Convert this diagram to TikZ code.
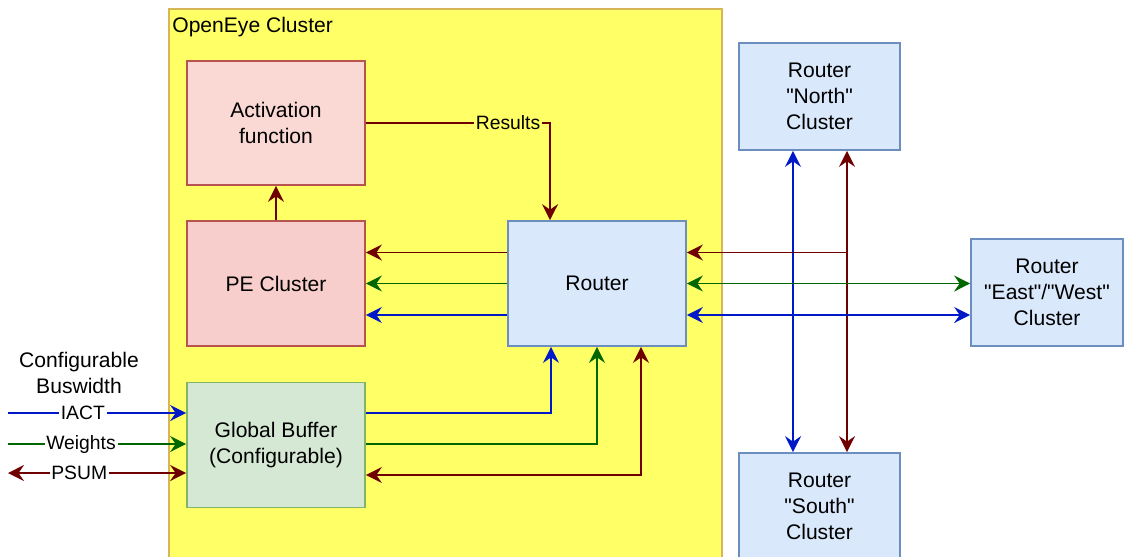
\documentclass[tikz,border=0pt]{standalone}
\usepackage{fontspec}
\setmainfont{Liberation Sans}[Ligatures=TeXOff]
\usetikzlibrary{arrows.meta,positioning,calc}
\definecolor{oefill}{HTML}{FFFF66}
\definecolor{oeline}{HTML}{D6B656}
\definecolor{redline}{HTML}{B85450}
\definecolor{actfill}{HTML}{FAD9D5}
\definecolor{pefill}{HTML}{F8CECC}
\definecolor{gbline}{HTML}{82B366}
\definecolor{gbfill}{HTML}{D5E8D4}
\definecolor{rtline}{HTML}{6C8EBF}
\definecolor{rtfill}{HTML}{DAE8FC}
\definecolor{dred}{HTML}{6F0000}
\definecolor{dgreen}{HTML}{006600}
\definecolor{dblue}{HTML}{0019C8}
\newcommand{\mainsz}{\fontsize{12pt}{14.8pt}\selectfont}
\newcommand{\lblsz}{\fontsize{11pt}{13pt}\selectfont}
\tikzset{
  blk/.style n args={2}{draw=#1,fill=#2,line width=1pt,minimum width=3.56cm,minimum height=2.5cm,
              align=center,font=\mainsz,inner sep=2pt},
  rtr/.style={blk={rtline}{rtfill},minimum width=3.22cm,minimum height=2.14cm},
  msg/.style={-{Stealth[length=3.2mm,width=3.2mm,inset=1.1mm]},line width=1.1pt,draw=#1},
  msg/.default=dred,
  duo/.style={{Stealth[length=3.2mm,width=3.2mm,inset=1.1mm]}-{Stealth[length=3.2mm,width=3.2mm,inset=1.1mm]},line width=1.1pt,draw=#1},
  duo/.default=dred,
  lbl/.style={font=\lblsz,fill=#1,inner sep=1pt,text=black},
  lbl/.default=white,
}

\begin{document}
\begin{tikzpicture}[x=0.02cm,y=-0.02cm,font=\mainsz]
  \useasboundingbox (0,0) rectangle (1124,556);
  \clip (0,0) rectangle (1124,556);
  % cluster frame
  \node[draw=oeline,fill=oefill,line width=1pt,anchor=north west,inner sep=0,
        minimum width=11.06cm,minimum height=12cm] (oe) at (168,8) {};
  \node[anchor=west,inner sep=0] (oetitle) at (172,27) {OpenEye Cluster};

  % blocks inside the cluster
  \node[blk={redline}{actfill},minimum height=2.48cm] (act) at (276,123) {Activation\\function};
  \node[blk={redline}{pefill}] (pe) at (276,283.5) {PE Cluster};
  \node[blk={gbline}{gbfill}] (gb) at (276,445) {Global Buffer\\(Configurable)};
  \node[blk={rtline}{rtfill}] (router) at (597,283.5) {Router};

  % neighbour routers
  \node[rtr] (north) at (819.5,96.5) {Router\\"North"\\Cluster};
  \node[rtr] (south) at (819.5,506.5) {Router\\"South"\\Cluster};
  \node[rtr,minimum width=3.04cm] (ew) at (1047,292.5) {Router\\"East"/"West"\\Cluster};

  \node[align=center] (bus) at (79,373) {Configurable\\Buswidth};

  % activation path
  \draw[msg] (pe) -- (act);
  \draw[msg] (act.east) -| node[lbl=oefill,pos=0.386]{Results} ([xshift=-0.94cm]router.north);

  % router -> PE cluster
  \draw[msg] ([yshift=0.62cm]router.west) -- ([yshift=0.62cm]pe.east);
  \draw[msg=dgreen] (router.west) -- (pe.east);
  \draw[msg=dblue] ([yshift=-0.63cm]router.west) -- ([yshift=-0.63cm]pe.east);

  % global buffer <-> router
  \draw[msg=dblue] ([yshift=0.64cm]gb.east) -| ([xshift=-0.92cm]router.south);
  \draw[msg=dgreen] ([yshift=0.02cm]gb.east) -| (router.south);
  \draw[duo] ([xshift=0.88cm]router.south) |- ([yshift=-0.6cm]gb.east);

  % outside links
  \coordinate (nr) at ([xshift=0.55cm]north.south);
  \coordinate (nb) at ([xshift=-0.53cm]north.south);
  \coordinate (rr) at ([yshift=0.62cm]router.east);
  \coordinate (rb) at ([yshift=-0.63cm]router.east);
  \draw[duo=dblue] (nb) -- (nb |- south.north);
  \draw[duo] (nr) -- (nr |- south.north);
  \draw[msg] (nr |- rr) -- (rr);
  \draw[duo=dgreen] (router.east) -- (router.east -| ew.west);
  \draw[duo=dblue] (rb) -- (rb -| ew.west);

  % bus inputs
  \coordinate (iact) at (8,413);
  \coordinate (wgt) at (8,444);
  \coordinate (psum) at (8,473);
  \draw[msg=dblue] (iact) -- node[lbl,pos=0.42]{IACT} (iact -| gb.west);
  \draw[msg=dgreen] (wgt) -- node[lbl,pos=0.41]{Weights} (wgt -| gb.west);
  \draw[duo] (psum) -- node[lbl,pos=0.40]{PSUM} (psum -| gb.west);
\end{tikzpicture}
\end{document}
